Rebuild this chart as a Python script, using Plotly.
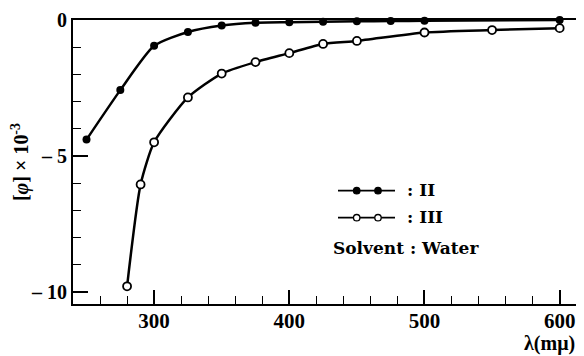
import plotly.graph_objects as go

# Data
wl_II = [250, 275, 300, 325, 350, 375, 400, 425, 450, 475, 500, 600]
phi_II = [-4.4, -2.58, -0.95, -0.44, -0.2, -0.1, -0.08, -0.06, -0.05, -0.04, -0.03, 0.0]

wl_III = [280, 290, 300, 325, 350, 375, 400, 425, 450, 500, 550, 600]
phi_III = [-9.8, -6.05, -4.5, -2.85, -1.97, -1.55, -1.22, -0.88, -0.77, -0.46, -0.37, -0.3]

x_ticks = [300, 400, 500, 600]
x_ticktext = ["300", "400", "500", "600"]
y_ticks = [-10, -5, 0]
y_ticktext = ["\u2013 10", "\u2013 5", "0"]

FONT = "Liberation Serif"
OFF = 8  # page body margin offset

fig = go.Figure()
fig.add_trace(go.Scatter(
    x=wl_II, y=phi_II, mode="lines+markers", name="II",
    line=dict(color="black", width=2.5, shape="spline", smoothing=0.6),
    marker=dict(symbol="circle", size=8, color="black"),
    cliponaxis=False, showlegend=False))
fig.add_trace(go.Scatter(
    x=wl_III, y=phi_III, mode="lines+markers", name="III",
    line=dict(color="black", width=2.5, shape="spline", smoothing=0.6),
    marker=dict(symbol="circle", size=8, color="white",
                line=dict(color="black", width=1.8)),
    cliponaxis=False, showlegend=False))

W, H = 584 - OFF, 356 - OFF
L, T = 73 - OFF, 20 - OFF
R = 0
B = 356 - 304

fig.update_layout(
    width=W, height=H,
    margin=dict(l=L, r=R, t=T, b=B, autoexpand=False),
    paper_bgcolor="white", plot_bgcolor="white",
    font=dict(family=FONT, color="black"),
    xaxis=dict(range=[240, 618], showgrid=False, zeroline=False,
               showline=True, linecolor="black", linewidth=2, mirror=True,
               ticks="inside", ticklen=14, tickwidth=1.6, tickcolor="black",
               tickvals=x_ticks, ticktext=x_ticktext, automargin=False,
               ticklabelstandoff=-3,
               tickfont=dict(family=FONT, size=21, weight="bold"),
               minor=dict(dtick=20, tick0=240, ticks="inside", ticklen=8,
                          tickwidth=1.4, tickcolor="black")),
    yaxis=dict(range=[-10.45, 0], showgrid=False, zeroline=False,
               showline=True, linecolor="black", linewidth=2, automargin=False,
               ticks="inside", ticklen=15, tickwidth=1.6, tickcolor="black",
               tickvals=y_ticks, ticktext=y_ticktext, ticklabeloverflow="allow",
               tickfont=dict(family=FONT, size=20, weight="bold"),
               title=dict(text="[<i>\u03c6</i>] \u00d7 10<sup>-3</sup>", standoff=6,
                          font=dict(family=FONT, size=20, weight="bold", color="black")),
               minor=dict(dtick=1, tick0=0, ticks="inside", ticklen=8,
                          tickwidth=1.4, tickcolor="black")),
)

pw, ph = W - L - R, H - T - B
def px(xp):
    return (xp - OFF - L) / pw
def py(yp):
    return 1 - (yp - OFF - T) / ph

shapes = []
# legend samples
for ypix, filled in [(190.7, True), (217.7, False)]:
    shapes.append(dict(type="line", xref="paper", yref="paper",
                       x0=px(338), x1=px(395), y0=py(ypix), y1=py(ypix),
                       line=dict(color="black", width=1.8)))
    for mx in (356.7, 378):
        shapes.append(dict(type="circle", xref="paper", yref="paper",
                           xsizemode="pixel", ysizemode="pixel",
                           xanchor=px(mx), yanchor=py(ypix),
                           x0=-3.2, x1=3.2, y0=-3.2, y1=3.2,
                           fillcolor="black" if filled else "white",
                           line=dict(color="black", width=1.3)))
fig.update_layout(shapes=shapes)

LEG_FONT = dict(family="DejaVu Serif", size=17, weight="bold", color="black")
ann = [
    dict(text=": II", x=px(405), y=py(190), xanchor="left", yanchor="middle"),
    dict(text=": III", x=px(405), y=py(217), xanchor="left", yanchor="middle"),
    dict(text="Solvent : Water", x=px(331), y=py(248), xanchor="left", yanchor="middle"),
]
annotations = []
for a in ann:
    annotations.append(dict(a, xref="paper", yref="paper", showarrow=False, font=LEG_FONT))
annotations.append(dict(text="\u03bb(m\u03bc)", xref="paper", yref="paper",
                        x=px(577), y=py(343), xanchor="right", yanchor="middle",
                        showarrow=False,
                        font=dict(family=FONT, size=20, weight="bold", color="black")))
fig.update_layout(annotations=annotations)

fig.write_html("out.html")
